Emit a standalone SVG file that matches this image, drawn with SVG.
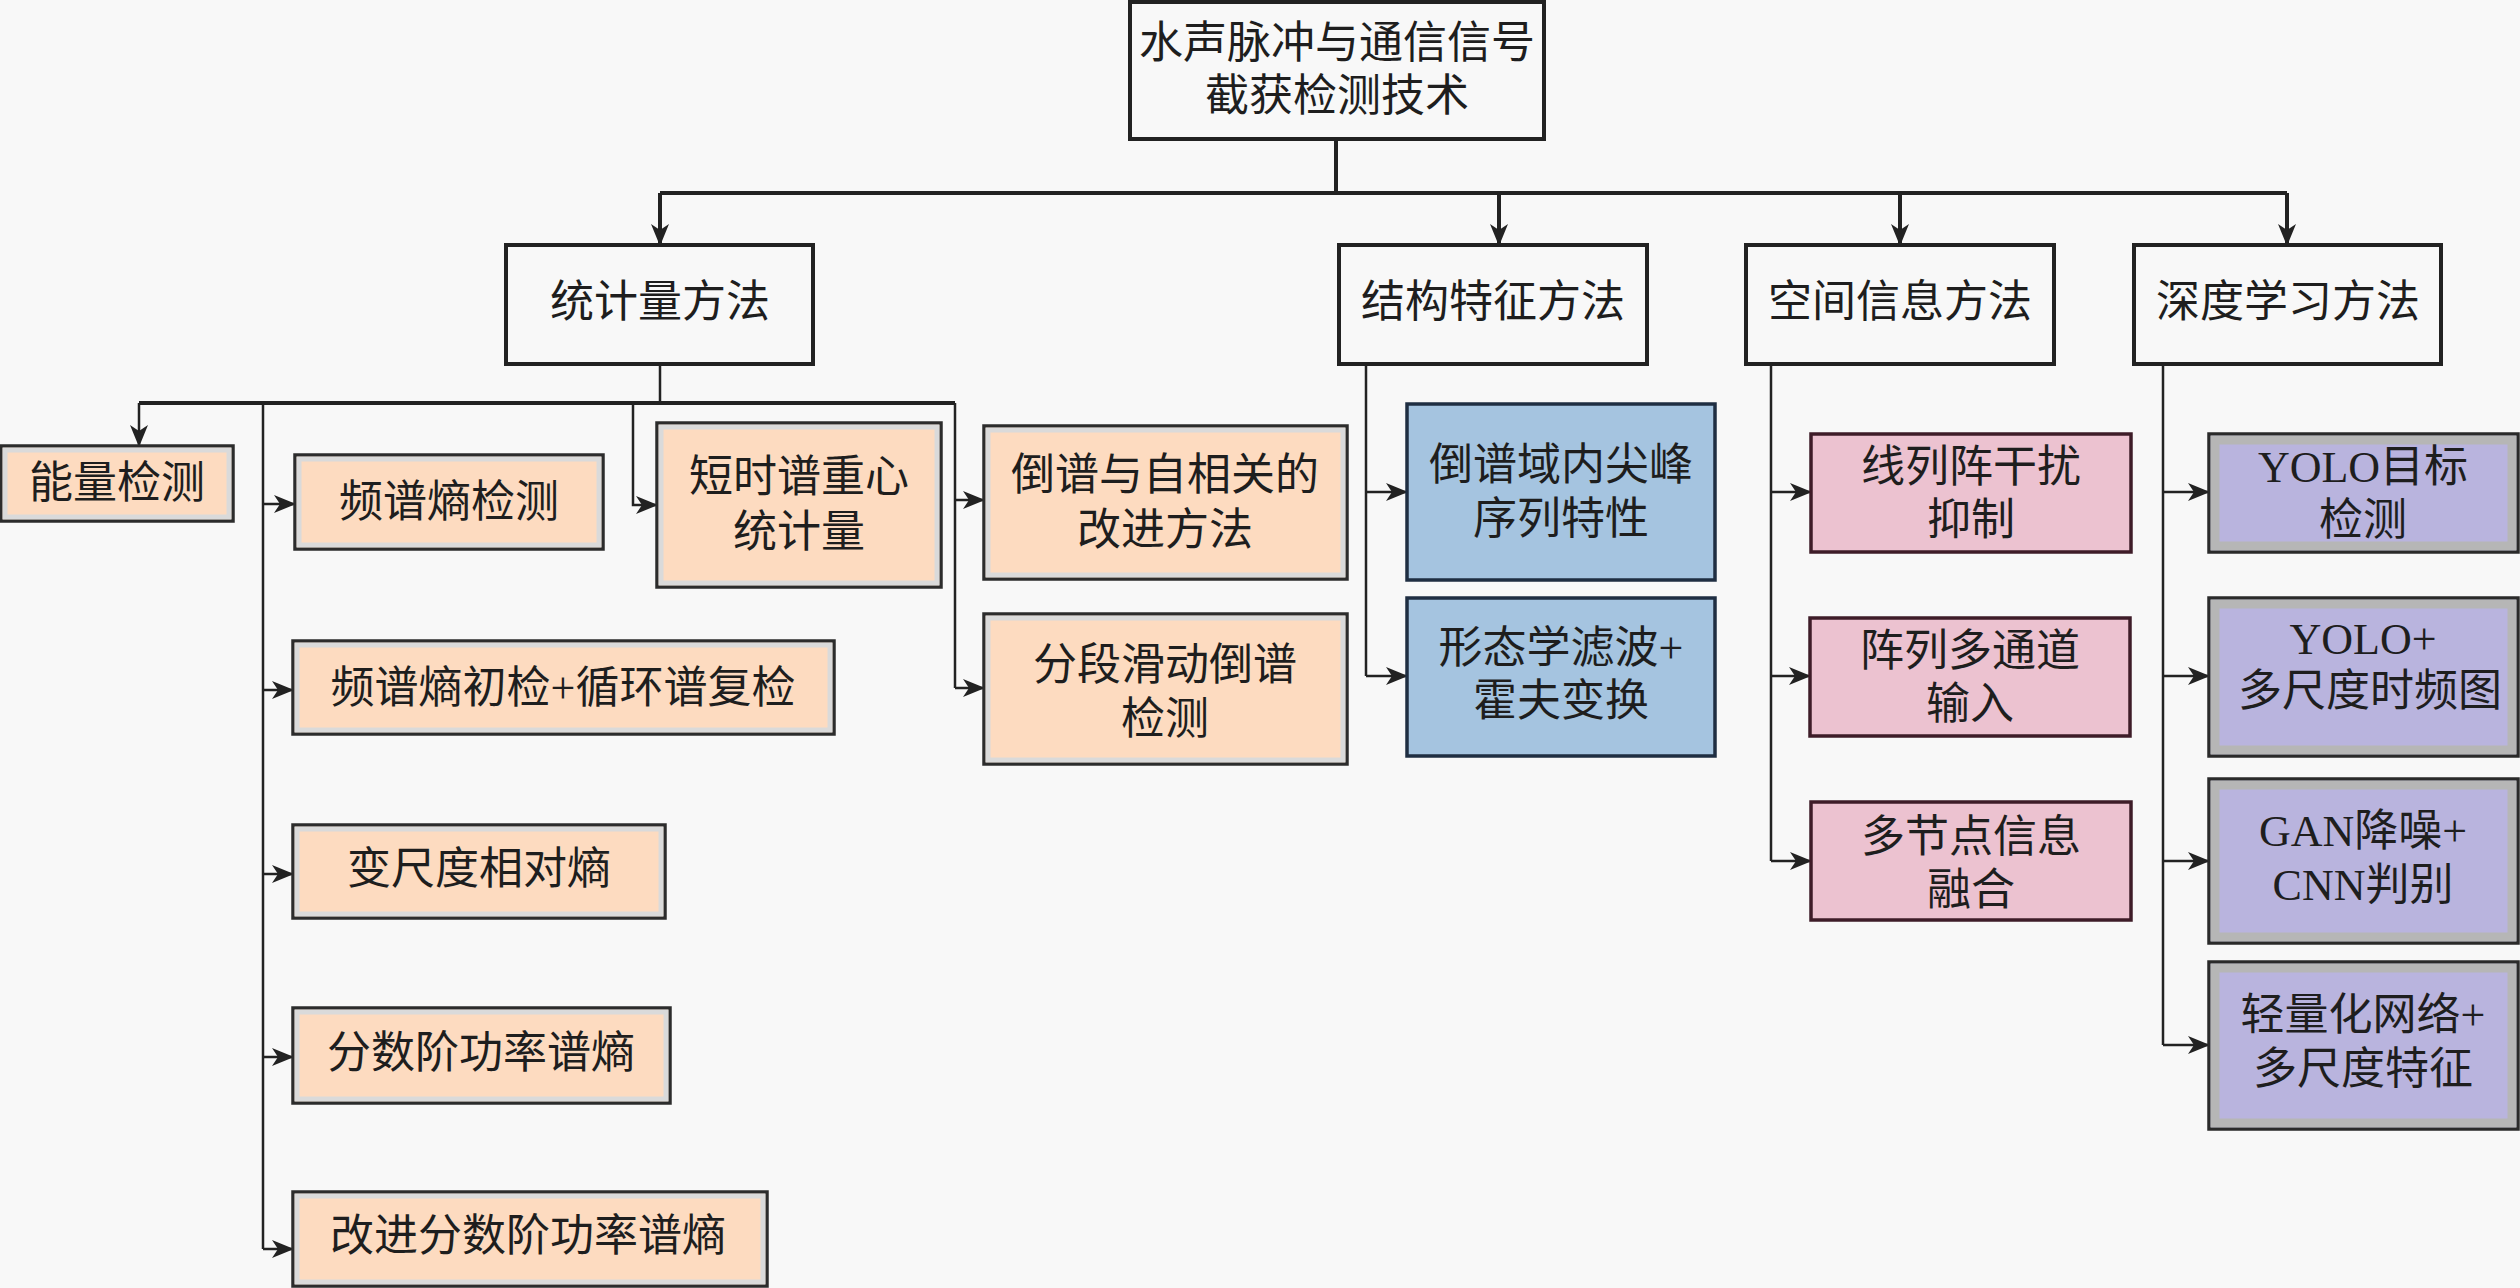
<svg xmlns="http://www.w3.org/2000/svg" width="2520" height="1288" viewBox="0 0 2520 1288">
<defs>
<marker id="ah" markerUnits="userSpaceOnUse" markerWidth="22" markerHeight="18" refX="21" refY="9" orient="auto">
<path d="M0,0 L22,9 L0,18 L6,9 Z" fill="#222"/>
</marker>
<style>
text{font-family:"Liberation Serif","Noto Sans CJK SC",serif;font-size:44px;fill:#1e1e1e;text-anchor:middle;dominant-baseline:central}
.w{fill:#f8f8f8;stroke:#222;stroke-width:4}
.p{fill:#fddbc0;stroke:#2c2c2c;stroke-width:3.5}
.pi{fill:none;stroke:#dadada;stroke-width:5}
.b{fill:#a5c4e0;stroke:#1f2e42;stroke-width:3.5}
.k{fill:#ecc2d0;stroke:#3e1c28;stroke-width:3.5}
.v{fill:#b9b4de;stroke:#2a2a2a;stroke-width:3.5}
.vi{fill:none;stroke:#b6b6b6;stroke-width:9}
.c path{fill:none;stroke:#222;stroke-width:2.5}
.c .t{stroke-width:4}
</style>
</defs>
<rect width="2520" height="1288" fill="#f8f8f8"/>
<g class="c" id="connectors">
<path class="t" d="M1336,139 V193"/>
<path class="t" d="M660,193 H2287"/>
<path class="t" d="M660,193 V245" marker-end="url(#ah)"/>
<path class="t" d="M1499,193 V245" marker-end="url(#ah)"/>
<path class="t" d="M1900,193 V245" marker-end="url(#ah)"/>
<path class="t" d="M2287,193 V245" marker-end="url(#ah)"/>
<path d="M660,364 V403"/>
<path class="t" d="M139,403 H955"/>
<path d="M139,403 V446" marker-end="url(#ah)"/>
<path d="M263,403 V1249"/>
<path d="M263,504 H295" marker-end="url(#ah)"/>
<path d="M263,690 H293" marker-end="url(#ah)"/>
<path d="M263,874 H293" marker-end="url(#ah)"/>
<path d="M263,1057 H293" marker-end="url(#ah)"/>
<path d="M263,1249 H293" marker-end="url(#ah)"/>
<path d="M633,403 V505 H657" marker-end="url(#ah)"/>
<path d="M955,403 V688"/>
<path d="M955,500 H984" marker-end="url(#ah)"/>
<path d="M955,688 H984" marker-end="url(#ah)"/>
<path d="M1366,364 V676"/>
<path d="M1366,492 H1407" marker-end="url(#ah)"/>
<path d="M1366,676 H1407" marker-end="url(#ah)"/>
<path d="M1771,364 V861"/>
<path d="M1771,492 H1811" marker-end="url(#ah)"/>
<path d="M1771,676 H1810" marker-end="url(#ah)"/>
<path d="M1771,861 H1811" marker-end="url(#ah)"/>
<path d="M2163,364 V1045"/>
<path d="M2163,492 H2209" marker-end="url(#ah)"/>
<path d="M2163,676 H2209" marker-end="url(#ah)"/>
<path d="M2163,861 H2209" marker-end="url(#ah)"/>
<path d="M2163,1045 H2209" marker-end="url(#ah)"/>
</g>
<g id="root"><rect class="w" x="1130" y="2" width="414" height="137"/><text x="1337" y="43">水声脉冲与通信信号</text><text x="1337" y="96">截获检测技术</text></g>
<g id="stat"><rect class="w" x="506" y="245" width="307" height="119"/><text x="660" y="302">统计量方法</text></g>
<g id="struct"><rect class="w" x="1339" y="245" width="308" height="119"/><text x="1493" y="302">结构特征方法</text></g>
<g id="space"><rect class="w" x="1746" y="245" width="308" height="119"/><text x="1900" y="302">空间信息方法</text></g>
<g id="deep"><rect class="w" x="2134" y="245" width="307" height="119"/><text x="2288" y="302">深度学习方法</text></g>

<g id="s1"><rect class="p" x="1" y="446" width="232" height="75"/><rect class="pi" x="5" y="450" width="224" height="67"/><text x="117" y="483">能量检测</text></g>
<g id="s2"><rect class="p" x="295" y="455" width="308" height="94"/><rect class="pi" x="299" y="459" width="300" height="86"/><text x="449" y="502">频谱熵检测</text></g>
<g id="s3"><rect class="p" x="293" y="641" width="541" height="93"/><rect class="pi" x="297" y="645" width="533" height="85"/><text x="563" y="688">频谱熵初检+循环谱复检</text></g>
<g id="s4"><rect class="p" x="293" y="825" width="372" height="93"/><rect class="pi" x="297" y="829" width="364" height="85"/><text x="479" y="869">变尺度相对熵</text></g>
<g id="s5"><rect class="p" x="293" y="1008" width="377" height="95"/><rect class="pi" x="297" y="1012" width="369" height="87"/><text x="481" y="1053">分数阶功率谱熵</text></g>
<g id="s6"><rect class="p" x="293" y="1192" width="474" height="94"/><rect class="pi" x="297" y="1196" width="466" height="86"/><text x="528" y="1236">改进分数阶功率谱熵</text></g>
<g id="s7"><rect class="p" x="657" y="423" width="284" height="164"/><rect class="pi" x="661" y="427" width="276" height="156"/><text x="799" y="477">短时谱重心</text><text x="799" y="532">统计量</text></g>
<g id="s8"><rect class="p" x="984" y="426" width="363" height="153"/><rect class="pi" x="988" y="430" width="355" height="145"/><text x="1165" y="475">倒谱与自相关的</text><text x="1165" y="530">改进方法</text></g>
<g id="s9"><rect class="p" x="984" y="614" width="363" height="150"/><rect class="pi" x="988" y="618" width="355" height="142"/><text x="1165" y="665">分段滑动倒谱</text><text x="1165" y="719">检测</text></g>

<g id="t1"><rect class="b" x="1407" y="404" width="308" height="176"/><text x="1561" y="465">倒谱域内尖峰</text><text x="1561" y="519">序列特性</text></g>
<g id="t2"><rect class="b" x="1407" y="598" width="308" height="158"/><text x="1561" y="648">形态学滤波+</text><text x="1561" y="701">霍夫变换</text></g>

<g id="p1"><rect class="k" x="1811" y="434" width="320" height="118"/><text x="1971" y="467">线列阵干扰</text><text x="1971" y="520">抑制</text></g>
<g id="p2"><rect class="k" x="1810" y="618" width="320" height="118"/><text x="1970" y="651">阵列多通道</text><text x="1970" y="704">输入</text></g>
<g id="p3"><rect class="k" x="1811" y="802" width="320" height="118"/><text x="1971" y="837">多节点信息</text><text x="1971" y="890">融合</text></g>

<g id="d1"><rect class="v" x="2209" y="434" width="309" height="118"/><rect class="vi" x="2215" y="440" width="297" height="106"/><text x="2363" y="467">YOLO目标</text><text x="2363" y="520">检测</text></g>
<g id="d2"><rect class="v" x="2209" y="598" width="309" height="158"/><rect class="vi" x="2215" y="604" width="297" height="146"/><text x="2363" y="639">YOLO+</text><text x="2370" y="691">多尺度时频图</text></g>
<g id="d3"><rect class="v" x="2209" y="779" width="309" height="164"/><rect class="vi" x="2215" y="785" width="297" height="152"/><text x="2363" y="831">GAN降噪+</text><text x="2363" y="885">CNN判别</text></g>
<g id="d4"><rect class="v" x="2209" y="962" width="309" height="167"/><rect class="vi" x="2215" y="968" width="297" height="155"/><text x="2363" y="1015">轻量化网络+</text><text x="2363" y="1069">多尺度特征</text></g>
</svg>
